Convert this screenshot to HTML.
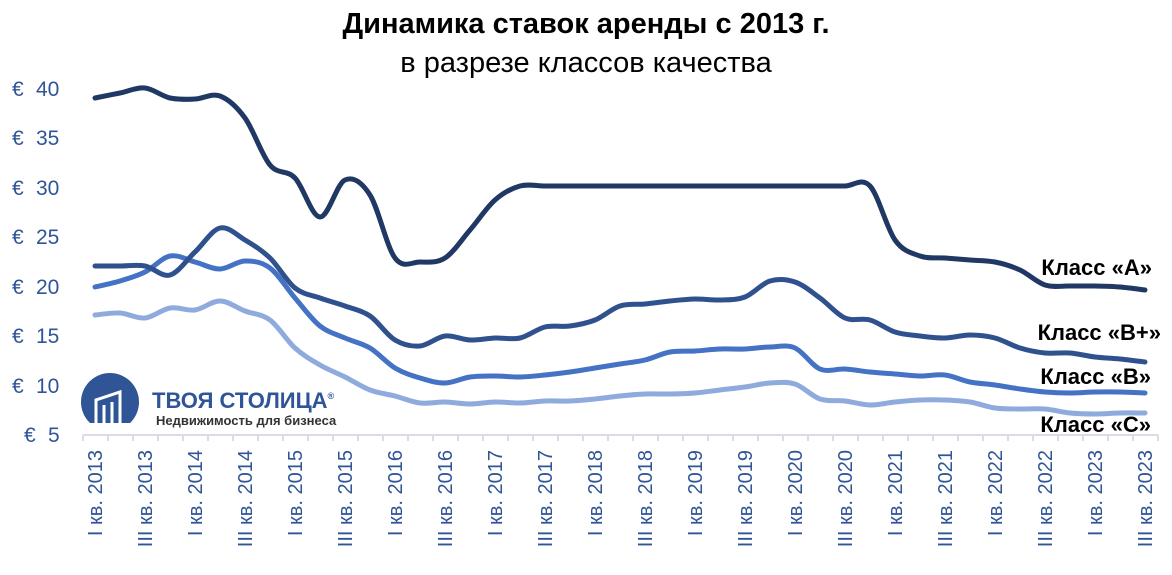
<!DOCTYPE html>
<html><head><meta charset="utf-8"><style>
body{margin:0;background:#fff;width:1172px;height:570px;overflow:hidden}
svg text{font-family:"Liberation Sans","DejaVu Sans",sans-serif}
</style></head><body>
<svg id="s" width="1172" height="570" viewBox="0 0 1172 570" xmlns="http://www.w3.org/2000/svg">
<text x="586" y="33" text-anchor="middle" font-size="29" font-weight="bold" fill="#000">Динамика ставок аренды с 2013 г.</text>
<text x="586" y="72" text-anchor="middle" font-size="29" fill="#000">в разрезе классов качества</text>
<g fill="#2f5597" font-size="21">
<text x="12" y="96">€</text><text x="36" y="96">40</text>
<text x="12" y="145">€</text><text x="36" y="145">35</text>
<text x="12" y="195">€</text><text x="36" y="195">30</text>
<text x="12" y="244">€</text><text x="36" y="244">25</text>
<text x="12" y="294">€</text><text x="36" y="294">20</text>
<text x="12" y="343">€</text><text x="36" y="343">15</text>
<text x="12" y="393">€</text><text x="36" y="393">10</text>
<text x="24" y="442">€</text><text x="48" y="442">5</text>
</g>
<g id="ax"></g>
<g id="lines" fill="none" stroke-width="5" stroke-linecap="round" stroke-linejoin="round"></g>
<defs><clipPath id="lc"><rect x="70" y="360" width="80" height="63"/></clipPath></defs>
<circle cx="110" cy="402" r="29" fill="#2f5597" clip-path="url(#lc)"/>
<g stroke="#fff" stroke-width="3" fill="none">
<path d="M96 423 V400 L120 392 V423"/><path d="M104 423 V405 M112 423 V402"/>
</g>
<text x="152" y="408" font-size="22" font-weight="bold" fill="#2f5597">ТВОЯ СТОЛИЦА<tspan font-size="9" dy="-9">®</tspan></text>
<text x="156" y="425" font-size="13" font-weight="bold" fill="#333">Недвижимость для бизнеса</text>
<g font-size="22" font-weight="bold" fill="#000" text-anchor="end">
<text x="1152" y="275">Класс «А»</text>
<text x="1161" y="340">Класс «В+»</text>
<text x="1151" y="384">Класс «В»</text>
<text x="1151" y="432">Класс «С»</text>
</g>
</svg>
<script>
var A=[98,93,88,98,99,96,118,165,178,217,180,195,258,262,258,230,200,186,186,186,186,186,186,186,186,186,186,186,186,186,186,186,240,256,258,260,262,270,285,286,286,287,290];
var BP=[266,266,266,275,252,228,240,258,288,298,306,316,340,346,336,340,338,338,327,326,320,306,304,301,299,300,297,281,282,298,318,320,332,336,338,335,338,348,353,353,357,359,362];
var B=[287,281,272,256,262,269,261,268,298,326,338,348,368,378,383,377,376,377,375,372,368,364,360,352,351,349,349,347,348,369,369,372,374,376,375,382,385,389,392,393,392,392,393];
var C=[315,313,318,308,310,301,311,320,348,365,377,390,396,403,402,404,402,403,401,401,399,396,394,394,393,390,387,383,384,399,401,405,402,400,400,402,408,409,409,413,414,413,413];
function path(d){var p=d.map(function(y,i){return[95+25*i,y]});var s="M"+p[0][0]+" "+p[0][1];
for(var i=0;i<p.length-1;i++){var p0=p[i-1]||p[i],p1=p[i],p2=p[i+1],p3=p[i+2]||p2;var t=6;
s+=" C"+(p1[0]+(p2[0]-p0[0])/t)+" "+(p1[1]+(p2[1]-p0[1])/t)+" "+(p2[0]-(p3[0]-p1[0])/t)+" "+(p2[1]-(p3[1]-p1[1])/t)+" "+p2[0]+" "+p2[1];}return s;}
var NS="http://www.w3.org/2000/svg",g=document.getElementById("lines");
[[C,"#8faadc"],[B,"#4472c4"],[BP,"#2f528f"],[A,"#203864"]].forEach(function(a){var e=document.createElementNS(NS,"path");e.setAttribute("d",path(a[0]));e.setAttribute("stroke",a[1]);g.appendChild(e);});
var ax=document.getElementById("ax"),h='<line x1="83" y1="435" x2="1158" y2="435" stroke="#d9dde6" stroke-width="2"/>';
for(var k=0;k<=43;k++){var x=83+25*k;h+='<line x1="'+x+'" y1="435" x2="'+x+'" y2="441" stroke="#d9dde6" stroke-width="2"/>';}
for(var i=0;i<43;i+=2){var q=i%4==0?"I":"III";var yr=2013+Math.floor(i/4);var x=95+25*i+7;
h+='<text transform="translate('+x+',450) rotate(-90)" text-anchor="end" font-size="20" fill="#2f5597">'+q+' кв. '+yr+'</text>';}
ax.innerHTML=h;
</script>
</body></html>
